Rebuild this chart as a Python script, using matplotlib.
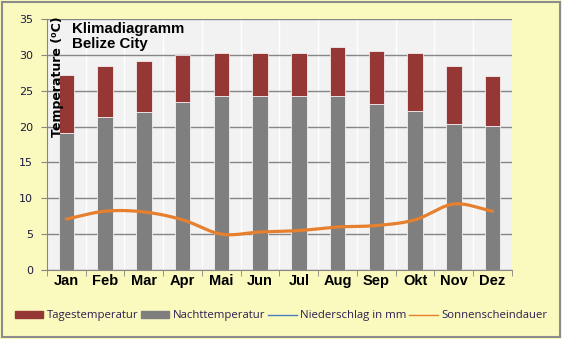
import matplotlib.pyplot as plt
import numpy as np
from matplotlib.patches import Rectangle
from matplotlib.lines import Line2D

months = ['Jan', 'Feb', 'Mar', 'Apr', 'Mai', 'Jun', 'Jul', 'Aug', 'Sep', 'Okt', 'Nov', 'Dez']
tag_temp = [27.2, 28.4, 29.2, 30.0, 30.2, 30.2, 30.2, 31.1, 30.5, 30.2, 28.4, 27.1]
nacht_temp = [19.1, 21.3, 22.1, 23.4, 24.2, 24.2, 24.2, 24.2, 23.2, 22.2, 20.3, 20.1]
sonne = [7.1, 8.2, 8.1, 7.0, 5.0, 5.3, 5.5, 6.0, 6.2, 7.0, 9.2, 8.2]


def smooth(x, y, n=20):
    # Catmull-Rom curve through the points, like the smoothed line in the original
    x = np.asarray(x, float)
    y = np.asarray(y, float)
    px = np.concatenate([[2 * x[0] - x[1]], x, [2 * x[-1] - x[-2]]])
    py = np.concatenate([[2 * y[0] - y[1]], y, [2 * y[-1] - y[-2]]])
    xs, ys = [], []
    t = np.linspace(0, 1, n, endpoint=False)
    for i in range(1, len(px) - 2):
        for p, out in ((px, xs), (py, ys)):
            p0, p1, p2, p3 = p[i - 1], p[i], p[i + 1], p[i + 2]
            out.extend(0.5 * (2 * p1 + (-p0 + p2) * t
                              + (2 * p0 - 5 * p1 + 4 * p2 - p3) * t ** 2
                              + (-p0 + 3 * p1 - 3 * p2 + p3) * t ** 3))
    xs.append(x[-1])
    ys.append(y[-1])
    return np.array(xs), np.array(ys)


fig = plt.figure(figsize=(5.62, 3.39), dpi=100)
fig.patch.set_facecolor('#fafabe')
fig.patches.append(Rectangle((0.004, 0.006), 0.992, 0.988, transform=fig.transFigure,
                             fill=False, edgecolor='#8c8c8c', linewidth=1.5))

ax = fig.add_axes([0.0836, 0.2035, 0.8274, 0.7405])
ax.set_facecolor('#f2f2f2')

x = np.arange(len(months))
ax.bar(x, nacht_temp, width=0.4, color='#7f7f7f', edgecolor='white', linewidth=0.5, zorder=3)
ax.bar(x, np.array(tag_temp) - np.array(nacht_temp), bottom=nacht_temp, width=0.4,
       color='#953735', edgecolor='white', linewidth=0.5, zorder=3)

sx, sy = smooth(x, sonne)
ax.plot(sx, sy, color='#e6802e', linewidth=2.3, zorder=4, solid_capstyle='round')

ax.set_xlim(-0.5, 11.5)
ax.set_ylim(0, 35)
ax.set_yticks(range(0, 36, 5))
ax.yaxis.grid(True, color='#868686', linewidth=1, zorder=1)
for b in np.arange(0.5, 11.5, 1):
    ax.axvline(b, color='white', linewidth=1, zorder=1)

ax.set_xticks(x)
ax.set_xticklabels(months, fontsize=10.5, fontweight='bold', family='Liberation Sans')
ax.set_xticks(np.arange(-0.5, 12, 1), minor=True)
ax.tick_params(axis='x', which='major', length=0, pad=3)
ax.tick_params(axis='x', which='minor', length=4, color='#868686')
ax.tick_params(axis='y', length=4, color='#868686', labelsize=8, labelcolor='#1a1a40', pad=6)

for s in ['top', 'right']:
    ax.spines[s].set_visible(False)
ax.spines['left'].set_color('#868686')
ax.spines['bottom'].set_color('#868686')

ax.text(0.054, 0.988, 'Klimadiagramm\nBelize City', transform=ax.transAxes, fontsize=10.8,
        fontweight='bold', family='Liberation Sans', va='top', ha='left', linespacing=1.1)
ax.text(0.022, 0.77, 'Temperature (⁰C)', transform=ax.transAxes, rotation=90, fontsize=9,
        fontweight='bold', family='DejaVu Sans', va='center', ha='center')

handles = [Rectangle((0, 0), 1, 1, color='#953735'),
           Rectangle((0, 0), 1, 1, color='#7f7f7f'),
           Line2D([], [], color='#4a7ebb', linewidth=1),
           Line2D([], [], color='#e6802e', linewidth=1)]
labels = ['Tagestemperatur', 'Nachttemperatur', 'Niederschlag in mm', 'Sonnenscheindauer']
leg = fig.legend(handles, labels, loc='center', bbox_to_anchor=(0.5, 0.068), ncol=4,
                 frameon=False, handlelength=2.5, handleheight=0.6,
                 handletextpad=0.3, columnspacing=0.25, prop={'family': 'Open Sans', 'size': 8.2})
for t in leg.get_texts():
    t.set_color('#2a1f50')

fig.savefig('out.png', dpi=100, facecolor=fig.get_facecolor())
